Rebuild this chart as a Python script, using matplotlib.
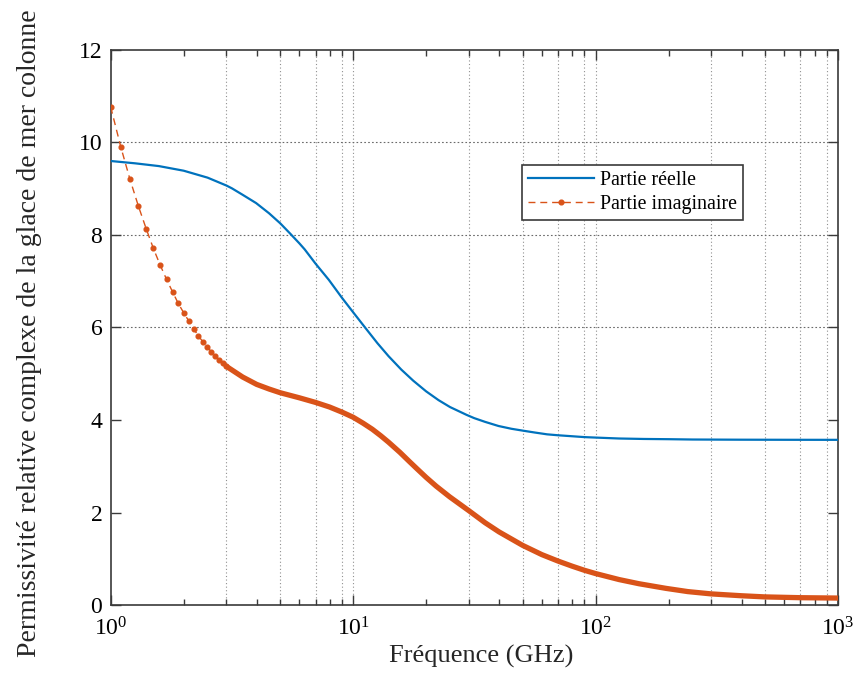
import matplotlib
matplotlib.use("Agg")
import matplotlib.pyplot as plt
from matplotlib.ticker import LogLocator

# ---- data ----
f_re = [1.0, 1.26, 1.58, 2.0, 2.51, 3.0, 3.16, 3.5, 3.98, 4.5, 5.01, 5.5, 6.0, 6.31, 7.0,
        7.94, 9.0, 10.0, 11.2, 12.6, 14.0, 15.8, 17.7, 20.0, 22.5, 25.1, 29.4, 31.6,
        35.0, 39.8, 45.0, 50.1, 56.0, 63.1, 70.0, 79.4, 90.0, 100.0, 125.0, 158.0,
        200.0, 251.0, 398.0, 631.0, 1000.0]
re_part = [9.60, 9.55, 9.49, 9.39, 9.24, 9.07, 9.01, 8.87, 8.69, 8.47, 8.25, 8.03, 7.82,
           7.69, 7.38, 7.03, 6.64, 6.33, 6.00, 5.66, 5.38, 5.09, 4.85, 4.62, 4.43, 4.28,
           4.11, 4.04, 3.96, 3.87, 3.81, 3.77, 3.73, 3.69, 3.67, 3.65, 3.63, 3.62, 3.60,
           3.59, 3.585, 3.578, 3.574, 3.572, 3.571]

f_im = [1.0, 1.1, 1.2, 1.3, 1.4, 1.5, 1.6, 1.7, 1.8, 1.9, 2.0, 2.1, 2.2, 2.3, 2.4, 2.5,
        2.6, 2.7, 2.8, 2.9, 3.0, 3.5, 4.0, 4.5, 5.0, 6.0, 7.0, 8.0, 9.0, 10.0, 11.0,
        12.0, 13.0, 14.0, 15.6, 17.0, 18.3, 20.0, 22.0, 25.0, 30.0, 35.0, 40.0, 50.0,
        60.0, 70.0, 80.0, 90.0, 100.0, 125.0, 151.0, 195.0, 240.0, 300.0, 400.0, 500.0,
        700.0, 1000.0]
im_part = [10.77, 9.91, 9.21, 8.63, 8.14, 7.71, 7.35, 7.04, 6.77, 6.52, 6.32, 6.14, 5.97,
           5.82, 5.69, 5.57, 5.48, 5.39, 5.30, 5.23, 5.16, 4.93, 4.77, 4.67, 4.59, 4.48,
           4.38, 4.28, 4.17, 4.06, 3.93, 3.80, 3.66, 3.52, 3.30, 3.11, 2.95, 2.76, 2.57,
           2.34, 2.04, 1.78, 1.58, 1.29, 1.09, 0.95, 0.84, 0.75, 0.68, 0.55, 0.46, 0.36,
           0.29, 0.24, 0.20, 0.175, 0.158, 0.15]

x_grid = [3, 5, 7, 9, 10, 30, 50, 70, 90, 100, 300, 500, 700, 900]
y_grid = [6, 8, 10]
y_ticks = [0, 2, 4, 6, 8, 10, 12]

label_re = "Partie réelle"
label_im = "Partie imaginaire"
xlabel = "Fréquence (GHz)"
ylabel = "Permissivité relative complexe de la glace de mer colonne"

# ---- styling ----
plt.rcParams['font.family'] = ['Liberation Serif', 'DejaVu Serif']
plt.rcParams['mathtext.fontset'] = 'custom'
plt.rcParams['mathtext.rm'] = 'Liberation Serif'
plt.rcParams['mathtext.it'] = 'Liberation Serif:italic'

blue = '#0072BD'
orange = '#D95319'
spine_c = '#3a3a3a'

fig = plt.figure(figsize=(8.58, 6.83), dpi=100)
ax = fig.add_axes([0.129, 0.1142, 0.8477, 0.8126])

ax.set_xscale('log')
ax.set_xlim(1, 1000)
ax.set_ylim(0, 12)

for xv in x_grid:
    ax.axvline(xv, color='#909090', lw=0.8, ls=(0, (1, 2.2)), zorder=0)
for yv in y_grid:
    ax.axhline(yv, color='#6a6a6a', lw=0.8, ls=(0, (1.5, 2.0)), zorder=0)

ax.plot(f_re, re_part, color=blue, lw=1.6, label=label_re, zorder=3)

n_mark = f_im.index(3.0) + 1
ax.plot(f_im, im_part, color=orange, lw=1.0, ls=(0, (5, 3.5)), marker='o',
        markersize=3.4, markevery=list(range(n_mark)), label=label_im, zorder=4)
ax.plot(f_im[n_mark - 1:], im_part[n_mark - 1:], color=orange, lw=3.8,
        solid_capstyle='round', solid_joinstyle='round', zorder=4)

ax.set_yticks(y_ticks)
ax.xaxis.set_major_locator(LogLocator(base=10, numticks=10))
ax.xaxis.set_minor_locator(LogLocator(base=10, subs=range(2, 10), numticks=10))
ax.tick_params(which='both', direction='in', top=True, right=True, color=spine_c,
               labelsize=17, width=1.0)
ax.tick_params(which='major', length=7, pad=9)
ax.tick_params(which='minor', length=4)
ax.tick_params(axis='y', pad=6)
for s in ax.spines.values():
    s.set_color(spine_c)
    s.set_linewidth(1.2)

ax.set_xlabel(xlabel, fontsize=19, color='#262626')
ax.xaxis.set_label_coords(0.51, -0.072)
ax.set_ylabel(ylabel, fontsize=20, color='#262626')
ax.yaxis.set_label_coords(-0.095, 0.49)

leg = ax.legend(loc='upper left', bbox_to_anchor=(0.566, 0.793), fontsize=14.3,
                frameon=True, fancybox=False, framealpha=1, edgecolor='#3a3a3a',
                handlelength=3.3, labelspacing=0.25, borderpad=0.3, handletextpad=0.3,
                borderaxespad=0, numpoints=1)
leg.get_frame().set_linewidth(1.2)

fig.savefig('out.png', dpi=100)
